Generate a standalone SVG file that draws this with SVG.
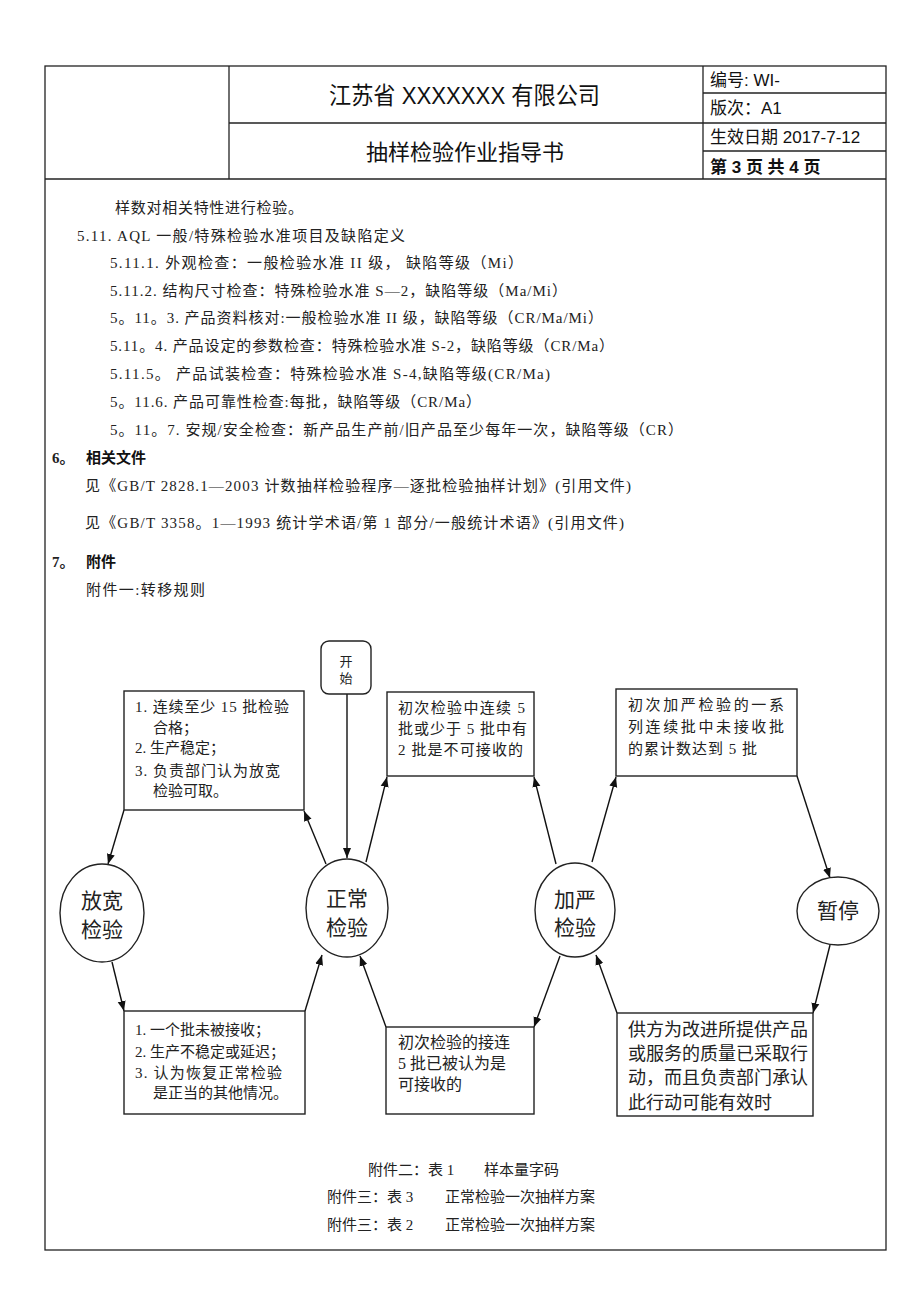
<svg xmlns="http://www.w3.org/2000/svg" width="920" height="1302" viewBox="0 0 920 1302">
<style>
.t{font-family:"Liberation Serif","Noto Sans CJK SC",serif;font-size:15px;fill:#222}
.h{font-family:"Liberation Sans","Noto Sans CJK SC",sans-serif;fill:#111}
.b{font-weight:bold}
.ln{stroke:#222;stroke-width:1.3;fill:none}
.box{fill:#fff;stroke:#222;stroke-width:1.4}
.d{font-family:"Liberation Serif","Noto Sans CJK SC",serif;font-size:15px;fill:#222}
.d13{font-size:13px}
.d16{font-size:16px}
.d18{font-size:18px}
.e{font-family:"Liberation Serif","Noto Sans CJK SC",serif;font-size:21px;fill:#222}
.c{stroke:#111;stroke-width:1.4;fill:none;marker-end:url(#ah)}
</style>
<defs>
<marker id="ah" viewBox="0 0 10 10" refX="10" refY="5" markerWidth="10" markerHeight="10" markerUnits="userSpaceOnUse" orient="auto">
<path d="M0,1 L10,5 L0,9 Z" fill="#111"/>
</marker>
</defs>
<rect width="920" height="1302" fill="#fff"/>
<g id="header">
<rect x="45" y="66" width="841" height="1184" class="ln"/>
<line x1="45" y1="179" x2="886" y2="179" class="ln"/>
<line x1="229" y1="66" x2="229" y2="179" class="ln"/>
<line x1="703" y1="66" x2="703" y2="179" class="ln"/>
<line x1="229" y1="123" x2="886" y2="123" class="ln"/>
<line x1="703" y1="93" x2="886" y2="93" class="ln"/>
<line x1="703" y1="151" x2="886" y2="151" class="ln"/>
<text class="h" x="329" y="104" font-size="24" textLength="271" lengthAdjust="spacingAndGlyphs">江苏省 XXXXXXX 有限公司</text>
<text class="h" x="465" y="160" font-size="22" text-anchor="middle">抽样检验作业指导书</text>
<text class="h" x="710" y="86" font-size="17">编号: WI-</text>
<text class="h" x="710" y="114" font-size="17">版次：A1</text>
<text class="h" x="710" y="143" font-size="17">生效日期 2017-7-12</text>
<text class="h b" x="710" y="173" font-size="17">第 3 页 共 4 页</text>
</g>
<g id="body">
<text class="t" x="115" y="213" textLength="188" lengthAdjust="spacing">样数对相关特性进行检验。</text>
<text class="t" x="77" y="241" textLength="328" lengthAdjust="spacing">5.11. AQL 一般/特殊检验水准项目及缺陷定义</text>
<text class="t" x="110" y="268" textLength="413" lengthAdjust="spacing">5.11.1. 外观检查：一般检验水准 II 级， 缺陷等级（Mi）</text>
<text class="t" x="110" y="296" textLength="457" lengthAdjust="spacing">5.11.2. 结构尺寸检查：特殊检验水准 S—2，缺陷等级（Ma/Mi）</text>
<text class="t" x="110" y="323" textLength="493" lengthAdjust="spacing">5。11。3. 产品资料核对:一般检验水准 II 级，缺陷等级（CR/Ma/Mi）</text>
<text class="t" x="110" y="351" textLength="504" lengthAdjust="spacing">5.11。4. 产品设定的参数检查：特殊检验水准 S-2，缺陷等级（CR/Ma）</text>
<text class="t" x="110" y="379" textLength="440" lengthAdjust="spacing">5.11.5。 产品试装检查：特殊检验水准 S-4,缺陷等级(CR/Ma)</text>
<text class="t" x="110" y="407" textLength="371" lengthAdjust="spacing">5。11.6. 产品可靠性检查:每批，缺陷等级（CR/Ma）</text>
<text class="t" x="110" y="435" textLength="573" lengthAdjust="spacing">5。11。7. 安规/安全检查：新产品生产前/旧产品至少每年一次，缺陷等级（CR）</text>
<text class="t b" x="52" y="463">6。</text>
<text class="h b" x="86" y="463" font-size="15">相关文件</text>
<text class="t" x="85" y="491" textLength="546" lengthAdjust="spacing">见《GB/T 2828.1—2003 计数抽样检验程序—逐批检验抽样计划》(引用文件)</text>
<text class="t" x="85" y="528" textLength="539" lengthAdjust="spacing">见《GB/T 3358。1—1993 统计学术语/第 1 部分/一般统计术语》(引用文件)</text>
<text class="t b" x="52" y="567">7。</text>
<text class="h b" x="86" y="567" font-size="15">附件</text>
<text class="t" x="86" y="595" textLength="119" lengthAdjust="spacing">附件一:转移规则</text>
</g>
<g id="connectors">
<line x1="347" y1="694" x2="347" y2="858" class="c"/>
<line x1="124" y1="810" x2="108" y2="864" class="c"/>
<line x1="326" y1="864" x2="304" y2="811" class="c"/>
<line x1="366" y1="862" x2="387" y2="777" class="c"/>
<line x1="556" y1="864" x2="534" y2="777" class="c"/>
<line x1="592" y1="862" x2="616" y2="777" class="c"/>
<line x1="797" y1="776" x2="830" y2="878" class="c"/>
<line x1="112" y1="962" x2="124" y2="1011" class="c"/>
<line x1="305" y1="1011" x2="322" y2="955" class="c"/>
<line x1="386" y1="1027" x2="360" y2="956" class="c"/>
<line x1="560" y1="956" x2="534" y2="1027" class="c"/>
<line x1="617" y1="1013" x2="596" y2="955" class="c"/>
<line x1="830" y1="945" x2="813" y2="1013" class="c"/>
</g>
<g id="start">
<rect x="321" y="641" width="50" height="53" rx="8" class="box"/>
<text class="d d13" x="346" y="666" text-anchor="middle">开</text>
<text class="d d13" x="346" y="683" text-anchor="middle">始</text>
</g>
<g id="box1">
<rect x="124" y="691" width="180" height="119" class="box"/>
<text class="d" x="135" y="712" textLength="154" lengthAdjust="spacing">1. 连续至少 15 批检验</text>
<text class="d" x="153" y="733">合格；</text>
<text class="d" x="135" y="753">2. 生产稳定；</text>
<text class="d" x="135" y="776" textLength="145" lengthAdjust="spacing">3. 负责部门认为放宽</text>
<text class="d" x="153" y="796">检验可取。</text>
</g>
<g id="box2">
<rect x="387" y="692" width="147" height="84" class="box"/>
<text class="d" x="398" y="713" textLength="127" lengthAdjust="spacing">初次检验中连续 5</text>
<text class="d" x="398" y="734" textLength="129" lengthAdjust="spacing">批或少于 5 批中有</text>
<text class="d" x="398" y="755" textLength="125" lengthAdjust="spacing">2 批是不可接收的</text>
</g>
<g id="box3">
<rect x="616" y="689" width="181" height="87" class="box"/>
<text class="d" x="628" y="710" textLength="156" lengthAdjust="spacing">初次加严检验的一系</text>
<text class="d" x="628" y="732" textLength="156" lengthAdjust="spacing">列连续批中未接收批</text>
<text class="d" x="628" y="754" textLength="129" lengthAdjust="spacing">的累计数达到 5 批</text>
</g>
<g id="n-loose">
<ellipse cx="102" cy="913" rx="42" ry="49" class="box"/>
<text class="e" x="102" y="908" text-anchor="middle">放宽</text>
<text class="e" x="102" y="937" text-anchor="middle">检验</text>
</g>
<g id="n-normal">
<ellipse cx="347" cy="908" rx="41" ry="49" class="box"/>
<text class="e" x="347" y="906" text-anchor="middle">正常</text>
<text class="e" x="347" y="935" text-anchor="middle">检验</text>
</g>
<g id="n-tight">
<ellipse cx="575" cy="910" rx="40" ry="47" class="box"/>
<text class="e" x="575" y="907" text-anchor="middle">加严</text>
<text class="e" x="575" y="935" text-anchor="middle">检验</text>
</g>
<g id="n-stop">
<ellipse cx="838" cy="911" rx="41" ry="34" class="box"/>
<text class="e" x="838" y="918" text-anchor="middle">暂停</text>
</g>
<g id="box4">
<rect x="124" y="1011" width="181" height="103" class="box"/>
<text class="d" x="135" y="1035">1. 一个批未被接收；</text>
<text class="d" x="135" y="1057">2. 生产不稳定或延迟；</text>
<text class="d" x="135" y="1078" textLength="147" lengthAdjust="spacing">3. 认为恢复正常检验</text>
<text class="d" x="153" y="1098">是正当的其他情况。</text>
</g>
<g id="box5">
<rect x="386" y="1027" width="148" height="87" class="box"/>
<text class="d d16" x="398" y="1048">初次检验的接连</text>
<text class="d d16" x="398" y="1069">5 批已被认为是</text>
<text class="d d16" x="398" y="1090">可接收的</text>
</g>
<g id="box6">
<rect x="617" y="1013" width="196" height="103" class="box"/>
<text class="d d18" x="628" y="1036">供方为改进所提供产品</text>
<text class="d d18" x="628" y="1060">或服务的质量已采取行</text>
<text class="d d18" x="628" y="1084">动，而且负责部门承认</text>
<text class="d d18" x="628" y="1109">此行动可能有效时</text>
</g>
<g id="footer">
<text class="t" x="368" y="1175">附件二：表 1</text>
<text class="t" x="484" y="1175">样本量字码</text>
<text class="t" x="327" y="1202">附件三：表 3</text>
<text class="t" x="445" y="1202">正常检验一次抽样方案</text>
<text class="t" x="327" y="1230">附件三：表 2</text>
<text class="t" x="445" y="1230">正常检验一次抽样方案</text>
</g>
</svg>
